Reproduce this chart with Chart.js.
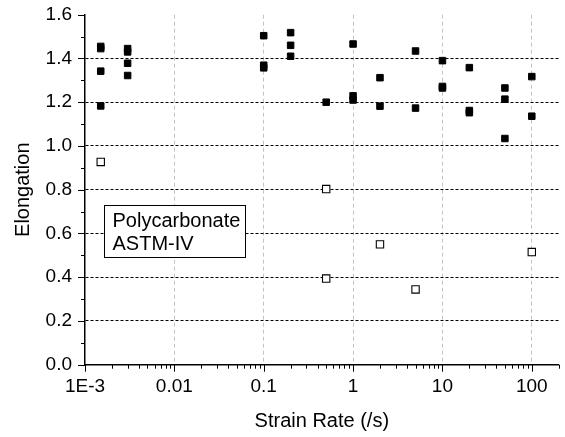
<!DOCTYPE html>
<html><head><meta charset="utf-8">
<script src="https://cdn.jsdelivr.net/npm/chart.js@4"></script>
<style>html,body{margin:0;padding:0;background:#fff}#wrap{width:565px;height:437px;position:relative}</style>
</head><body><div id="wrap"><canvas id="c"></canvas></div>
<script>
const strainRateFilled = [0.0015,0.0015,0.0015,0.0015, 0.003,0.003,0.003,0.003, 0.1,0.1,0.1, 0.2,0.2,0.2, 0.5, 1,1,1, 2,2, 5,5, 10,10,10, 20,20,20, 50,50,50, 100,100];
const elongationFilled = [1.455,1.445,1.342,1.183, 1.445,1.430,1.378,1.322, 1.504,1.369,1.357, 1.518,1.460,1.410, 1.200, 1.466,1.229,1.210, 1.312,1.182, 1.434,1.173, 1.390,1.272,1.265, 1.358,1.162,1.152, 1.265,1.214,1.034, 1.317,1.136];
const strainRateOpen = [0.0015, 0.5, 0.5, 2, 5, 100];
const elongationOpen = [0.927, 0.803, 0.394, 0.550, 0.344, 0.515];
const xTickValues = [0.001, 0.01, 0.1, 1, 10, 100];
const xTickLabels = ['1E-3', '0.01', '0.1', '1', '10', '100'];
const xMin = 0.001, xMax = 200;
const yMin = 0, yMax = 1.6, yStep = 0.2;
const xTitle = 'Strain Rate (/s)';
const yTitle = 'Elongation';
const noteLines = ['Polycarbonate', 'ASTM-IV'];

const FONT = '"Liberation Sans", Arial, Helvetica, sans-serif';
Chart.defaults.font.family = FONT;
Chart.defaults.color = '#000';

const toPts = (xs, ys) => xs.map((x, i) => ({x: x, y: ys[i]}));

const extras = {
  id: 'extras',
  afterDraw(chart) {
    const ctx = chart.ctx, xs = chart.scales.x, ys = chart.scales.y, a = chart.chartArea;
    ctx.save();
    ctx.strokeStyle = '#000';
    ctx.lineWidth = 1;
    ctx.beginPath();
    xTickValues.forEach(d => {
      for (let k = 1; k <= 9; k++) {
        const v = k * d;
        if (v > xMax * 1.0001) break;
        const px = Math.round(xs.getPixelForValue(v)) + 0.5;
        const len = k === 1 ? 7 : 4;
        ctx.moveTo(px, a.bottom);
        ctx.lineTo(px, a.bottom + len);
      }
    });
    const nMinor = Math.round((yMax - yMin) / (yStep / 2));
    for (let i = 0; i <= nMinor; i++) {
      const v = yMin + i * yStep / 2;
      const py = Math.round(ys.getPixelForValue(v)) + 0.5;
      const len = i % 2 === 0 ? 7 : 4;
      ctx.moveTo(a.left - len, py);
      ctx.lineTo(a.left, py);
    }
    ctx.stroke();
    // note box
    const bx = Math.round(a.left + 19) + 0.5, by = Math.round(a.top + 190) + 0.5, bw = 141, bh = 52;
    ctx.fillStyle = '#fff';
    ctx.fillRect(bx, by, bw, bh);
    ctx.strokeRect(bx, by, bw, bh);
    ctx.fillStyle = '#000';
    ctx.font = '20px ' + FONT;
    ctx.textBaseline = 'middle';
    ctx.textAlign = 'left';
    ctx.fillText(noteLines[0], bx + 8, by + 16);
    ctx.fillText(noteLines[1], bx + 8, by + 39);
    ctx.restore();
  }
};

new Chart(document.getElementById('c'), {
  type: 'scatter',
  data: {
    datasets: [
      {
        label: 'filled',
        data: toPts(strainRateFilled, elongationFilled),
        pointStyle: 'rect',
        pointRadius: 4.6,
        pointHoverRadius: 4.6,
        backgroundColor: '#000',
        borderColor: '#000',
        borderWidth: 1,
        showLine: false
      },
      {
        label: 'open',
        data: toPts(strainRateOpen, elongationOpen),
        pointStyle: 'rect',
        pointRadius: 5.2,
        pointHoverRadius: 5.2,
        backgroundColor: '#fff',
        borderColor: '#000',
        borderWidth: 1.1,
        showLine: false
      }
    ]
  },
  options: {
    responsive: true,
    maintainAspectRatio: false,
    animation: false,
    events: [],
    layout: {padding: {top: 14.7, right: 4.3, left: 0, bottom: 0}},
    plugins: {legend: {display: false}, tooltip: {enabled: false}},
    scales: {
      x: {
        type: 'logarithmic',
        position: 'bottom',
        min: xMin,
        max: xMax,
        afterFit(s) { s.height = 72.3; s.paddingLeft = 0; s.paddingRight = 0; },
        afterBuildTicks(s) { s.ticks = xTickValues.map(v => ({value: v})); },
        ticks: {
          autoSkip: false,
          maxRotation: 0,
          color: '#000',
          padding: 11,
          font: {size: 19},
          callback: (v, i) => xTickLabels[i]
        },
        grid: {
          drawTicks: false,
          lineWidth: 1,
          color: c => (c.tick && c.tick.value > xMin * 1.01) ? '#c4c4c4' : 'rgba(0,0,0,0)'
        },
        border: {display: true, color: '#000', width: 1.5, dash: [4, 3]},
        title: {display: true, text: xTitle, color: '#000', font: {size: 20}, padding: {top: 0, bottom: 4}}
      },
      y: {
        type: 'linear',
        min: yMin,
        max: yMax,
        afterFit(s) { s.width = 85; s.paddingTop = 0; s.paddingBottom = 0; },
        ticks: {
          stepSize: yStep,
          color: '#000',
          padding: 13,
          font: {size: 19},
          callback: v => Number(v).toFixed(1)
        },
        grid: {
          drawTicks: false,
          lineWidth: 1,
          color: c => (c.tick && c.tick.value > yMin + 0.01 && c.tick.value < yMax - 0.01) ? '#000' : 'rgba(0,0,0,0)'
        },
        border: {display: true, color: '#000', width: 1.5, dash: [3, 2]},
        title: {display: true, text: yTitle, color: '#000', font: {size: 20}, padding: {top: 11, bottom: 0}}
      }
    }
  },
  plugins: [extras]
});
</script>
</body></html>
